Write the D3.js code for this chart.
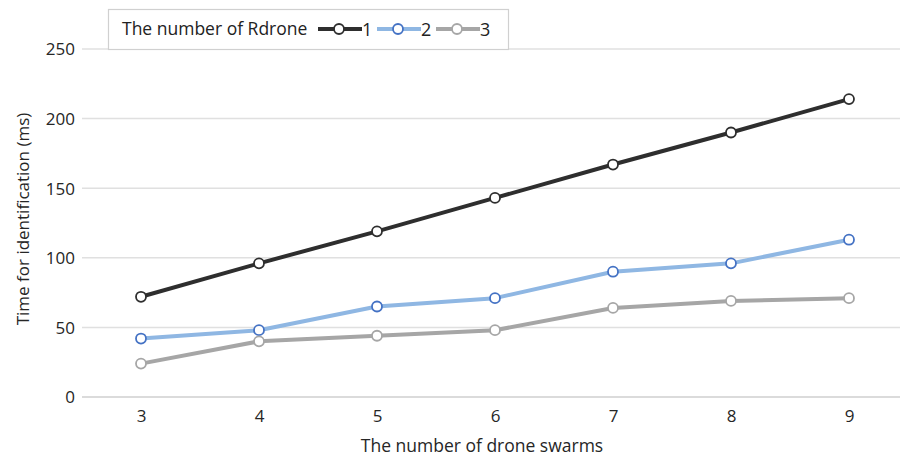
<!DOCTYPE html>
<html><head><meta charset="utf-8">
<script src="https://cdn.jsdelivr.net/npm/d3@7"></script>
<style>body{margin:0;background:#fff}svg{display:block}text{font-family:"Open Sans",Lato,sans-serif;font-weight:500}</style>
</head><body><svg id="c" width="900" height="458"></svg>
<script>
const categories = [3,4,5,6,7,8,9];
const series1 = [72,96,119,143,167,190,214];
const series2 = [42,48,65,71,90,96,113];
const series3 = [24,40,44,48,64,69,71];
const yTicks = [0,50,100,150,200,250];
const seriesNames = ["1","2","3"];
const legendTitle = "The number of Rdrone";
const xTitle = "The number of drone swarms";
const yTitle = "Time for identification (ms)";

const svg = d3.select("#c");
const x = d3.scalePoint().domain(categories).range([82,908]).padding(0.5);
const y = d3.scaleLinear().domain([0,250]).range([397,49]);

const styles = [
  {line:"#2e2e2e", mk:"#2e2e2e"},
  {line:"#8fb7e3", mk:"#4472c4"},
  {line:"#a6a6a6", mk:"#a6a6a6"}
];

// grid
const grid = svg.append("g").attr("class","grid");
grid.selectAll("line").data(yTicks).join("line")
  .attr("x1",82).attr("x2",900)
  .attr("y1",d=>y(d)).attr("y2",d=>y(d))
  .attr("stroke",d=>d===0?"#cfcfcf":"#e0e0e0").attr("stroke-width",1.5);

// y axis
const ya = svg.append("g").attr("transform","translate(75,0)")
  .call(d3.axisLeft(y).tickValues(yTicks).tickSize(0).tickPadding(0));
ya.select(".domain").remove();
ya.selectAll("text").attr("font-size",17).attr("fill","#262626").attr("dy","0.35em");

// x axis
const xa = svg.append("g").attr("transform","translate(0,410)")
  .call(d3.axisBottom(x).tickSize(0).tickPadding(0));
xa.select(".domain").remove();
xa.selectAll("text").attr("font-size",17).attr("fill","#262626").attr("dy","0.71em");

// titles
svg.append("text").attr("x",482).attr("y",452).attr("text-anchor","middle")
  .attr("font-size",17.5).attr("fill","#262626").text(xTitle);
svg.append("text").attr("transform","translate(29,219) rotate(-90)").attr("text-anchor","middle")
  .attr("font-size",17).attr("fill","#262626").text(yTitle);

// lines
const data = [series1,series2,series3];
const line = d3.line().x((d,i)=>x(categories[i])).y(d=>y(d));
data.forEach((s,k)=>{
  svg.append("path").datum(s).attr("d",line).attr("fill","none")
    .attr("stroke",styles[k].line).attr("stroke-width",4).attr("stroke-linejoin","round");
});
data.forEach((s,k)=>{
  svg.append("g").selectAll("circle").data(s).join("circle")
    .attr("cx",(d,i)=>x(categories[i])).attr("cy",d=>y(d)).attr("r",5)
    .attr("fill","#fff").attr("stroke",styles[k].mk).attr("stroke-width",1.8);
});

// legend
const lg = svg.append("g");
lg.append("rect").attr("x",108.5).attr("y",9.5).attr("width",400).attr("height",40)
  .attr("fill","#fff").attr("stroke","#d0d0d0").attr("stroke-width",1.2);
lg.append("text").attr("x",122).attr("y",35).attr("font-size",17.5).attr("fill","#222").text(legendTitle);
const lx = [318, 377, 436];
seriesNames.forEach((n,k)=>{
  const g = lg.append("g").attr("transform",`translate(${lx[k]},29)`);
  g.append("line").attr("x1",0).attr("x2",44).attr("stroke",styles[k].line).attr("stroke-width",4);
  g.append("circle").attr("cx",21).attr("r",5).attr("fill","#fff").attr("stroke",styles[k].mk).attr("stroke-width",1.8);
  g.append("text").attr("x",44).attr("y",6.5).attr("font-size",18).attr("fill","#222").text(n);
});
</script></body></html>
